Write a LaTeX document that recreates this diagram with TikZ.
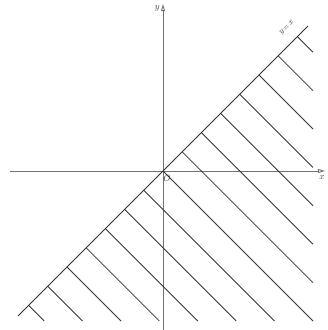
\documentclass[tikz,border=0pt]{standalone}
\usetikzlibrary{arrows.meta}
\begin{document}
\begin{tikzpicture}[x=1pt,y=1pt,
  axis/.style={draw=black!55, line width=0.9pt, -{Triangle[open,length=7pt,width=4pt]}},
  hatch/.style={draw=black!80, line width=0.85pt},
  lbl/.style={font=\small, inner sep=1pt, text=black!75}]
\useasboundingbox (-163,-159) rectangle (165,171);
\coordinate (O) at (0,0);
\coordinate (xs) at (-153,0);
\coordinate (xe) at (162,0);
\coordinate (ys) at (0,-159);
\coordinate (ye) at (0,167);
\draw[axis] (xs) -- (xe);
\draw[axis] (ys) -- (ye);
\coordinate (d1) at (-145,-145);
\coordinate (d2) at (145,145);
\draw[hatch] (d1) -- (d2);
\foreach \k in {-7,...,7}{
  \pgfmathsetmacro{\c}{38.4*\k}
  \pgfmathsetmacro{\h}{\c/2}
  \ifnum\k<0
    \pgfmathsetmacro{\ex}{\c+150}
    \coordinate (hs) at (\h,\h);
    \coordinate (he) at (\ex,-150);
  \else
    \pgfmathsetmacro{\ey}{\c-150}
    \coordinate (hs) at (\h,\h);
    \coordinate (he) at (150,\ey);
  \fi
  \draw[hatch] (hs) -- (he);
}
\node[lbl, anchor=east] (ylab) at (-2,163) {$y$};
\node[lbl] (xlab) at (159,-7) {$x$};
\node[lbl] (olab) at (4,-7) {$O$};
\node[lbl, font=\footnotesize, rotate=45] (dlab) at (124,143) {$y\!=\!x$};
\end{tikzpicture}
\end{document}
